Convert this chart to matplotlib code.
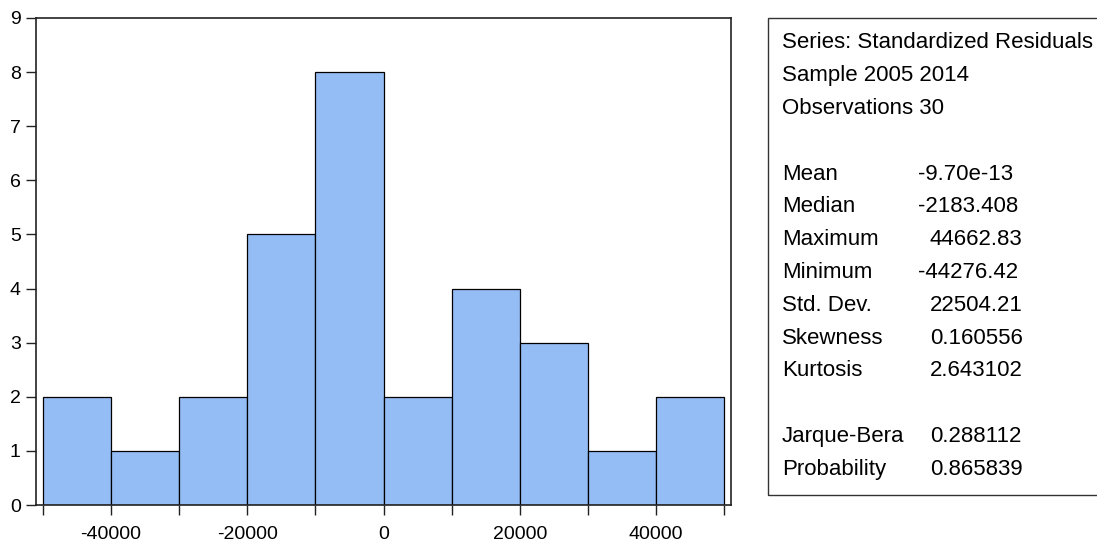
import matplotlib
matplotlib.use("Agg")
import matplotlib.pyplot as plt
from matplotlib.patches import Rectangle
import numpy as np

# Histogram of residuals: bin edges and counts
bin_edges = [-50000, -40000, -30000, -20000, -10000, 0, 10000, 20000, 30000, 40000, 50000]
counts = [2, 1, 2, 5, 8, 2, 4, 3, 1, 2]

x_ticks = [-50000, -40000, -30000, -20000, -10000, 0, 10000, 20000, 30000, 40000, 50000]
x_tick_labels = ["", "-40000", "", "-20000", "", "0", "", "20000", "", "40000", ""]
y_ticks = [0, 1, 2, 3, 4, 5, 6, 7, 8, 9]

header_lines = ["Series: Standardized Residuals", "Sample 2005 2014", "Observations 30"]
stat_names = ["Mean", "Median", "Maximum", "Minimum", "Std. Dev.", "Skewness", "Kurtosis"]
stat_values = ["-9.70e-13", "-2183.408", "44662.83", "-44276.42", "22504.21", "0.160556", "2.643102"]
test_names = ["Jarque-Bera", "Probability"]
test_values = ["0.288112", "0.865839"]

W, H = 1097, 544
plt.rcParams["font.family"] = ["Liberation Sans", "DejaVu Sans"]
fig = plt.figure(figsize=(W / 100, H / 100), dpi=100)
fig.patch.set_facecolor("white")

ax = fig.add_axes([36 / W, (H - 505) / H, 695 / W, 487 / H])
widths = np.diff(bin_edges)
ax.bar(bin_edges[:-1], counts, width=widths, align="edge",
       color="#95BDF5", edgecolor="black", linewidth=0.9)
ax.set_xlim(-51000, 51000)
ax.set_ylim(0, 9)
ax.set_xticks(x_ticks)
ax.set_xticklabels(x_tick_labels)
ax.set_yticks(y_ticks)
ax.tick_params(axis="both", direction="out", length=7, width=1.0,
               labelsize=14, color="#222222")
ax.tick_params(axis="x", pad=8)
ax.tick_params(axis="y", pad=4)
for s in ax.spines.values():
    s.set_linewidth(1.2)
    s.set_color("#222222")

# Statistics panel
def fx(px):
    return px / W

def fy(py):
    return 1 - py / H

box = Rectangle((fx(768), fy(495)), fx(W + 20) - fx(768), fy(18) - fy(495),
                transform=fig.transFigure, fill=False, edgecolor="#333333",
                linewidth=1.0, clip_on=False)
fig.add_artist(box)

step = 32.8
y0 = 43
fs = 16
row = 0
for line in header_lines:
    fig.text(fx(782), fy(y0 + row * step), line, fontsize=fs, va="center", ha="left")
    row += 1
row += 1
for name, val in zip(stat_names + [None] + test_names,
                     stat_values + [None] + test_values):
    if name is not None:
        fig.text(fx(782), fy(y0 + row * step), name, fontsize=fs, va="center", ha="left")
        vx = 918 if val.startswith("-") else 930
        fig.text(fx(vx), fy(y0 + row * step), val, fontsize=fs, va="center", ha="left")
    row += 1

fig.savefig("out.png", dpi=100)
